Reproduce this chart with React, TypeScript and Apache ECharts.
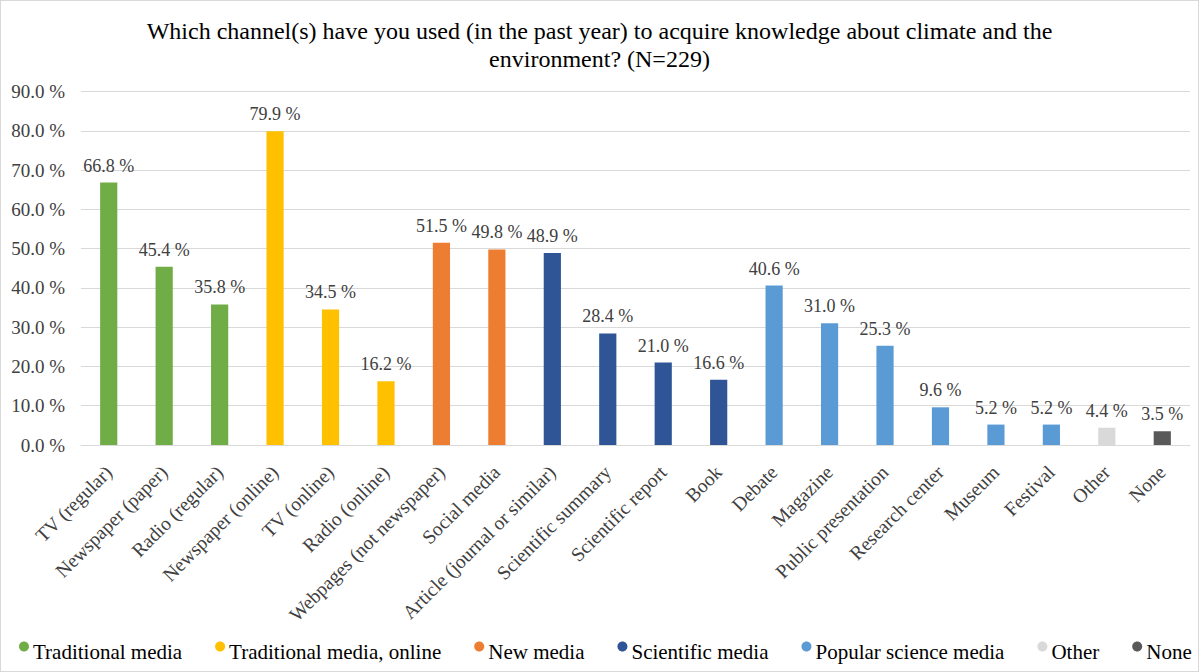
import React, { useEffect, useRef } from "react";
import * as echarts from "echarts";

const categories = [
  "TV (regular)", "Newspaper (paper)", "Radio (regular)", "Newspaper (online)", "TV (online)",
  "Radio (online)", "Webpages (not newspaper)", "Social media", "Article (journal or similar)",
  "Scientific summary", "Scientific report", "Book", "Debate", "Magazine", "Public presentation",
  "Research center", "Museum", "Festival", "Other", "None",
];
const values = [66.8, 45.4, 35.8, 79.9, 34.5, 16.2, 51.5, 49.8, 48.9, 28.4, 21.0, 16.6, 40.6, 31.0, 25.3, 9.6, 5.2, 5.2, 4.4, 3.5];
const groupNames = ["Traditional media", "Traditional media, online", "New media", "Scientific media", "Popular science media", "Other", "None"];
const groupColors = ["#70AD47", "#FFC000", "#ED7D31", "#2F5597", "#5B9BD5", "#D9D9D9", "#595959"];
const groupOf = [0, 0, 0, 1, 1, 1, 2, 2, 3, 3, 3, 3, 4, 4, 4, 4, 4, 4, 5, 6];
const yTicks = [0, 10, 20, 30, 40, 50, 60, 70, 80, 90];
const titleText = "Which channel(s) have you used (in the past year) to acquire knowledge about climate and the\nenvironment? (N=229)";

const FONT = "Liberation Serif, serif";
const DOT_ICON =
  "path://M0,5 C0,2.24 2.24,0 5,0 C7.76,0 10,2.24 10,5 C10,7.76 7.76,10 5,10 C2.24,10 0,7.76 0,5 Z M5,20 L5.01,20 Z";

export default function App() {
  const ref = useRef<HTMLDivElement>(null);
  useEffect(() => {
    if (!ref.current) return;
    const chart = echarts.init(ref.current, undefined, { renderer: "svg" });
    const series = groupNames.map((name, g) => ({
      name,
      type: "bar",
      stack: "all",
      barWidth: "31%",
      itemStyle: { color: groupColors[g] },
      label: {
        show: true,
        position: "top",
        distance: 8,
        fontFamily: FONT,
        fontSize: 18,
        color: "#404040",
        formatter: (p: any) => p.value.toFixed(1) + " %",
      },
      data: values.map((v, i) => (groupOf[i] === g ? v : "-")),
    }));
    chart.setOption({
      animation: false,
      textStyle: { fontFamily: FONT },
      title: {
        text: titleText,
        left: "center",
        top: 11,
        textStyle: { fontFamily: FONT, fontSize: 24, fontWeight: "normal", color: "#000", lineHeight: 28, align: "center" },
      },
      legend: {
        left: 18,
        right: 0,
        top: 640,
        padding: 0,
        icon: DOT_ICON,
        itemWidth: 10,
        itemHeight: 20,
        itemGap: 33,
        textStyle: { fontFamily: FONT, fontSize: 21, color: "#000", padding: [0, 0, 0, -1] },
        data: groupNames,
      },
      grid: { left: 80, right: 8, top: 90.5, bottom: 226, containLabel: false },
      xAxis: {
        type: "category",
        data: categories,
        axisTick: { show: false },
        axisLine: { lineStyle: { color: "#D9D9D9" } },
        axisLabel: {
          interval: 0,
          rotate: 45,
          fontFamily: FONT,
          fontSize: 19.5,
          color: "#404040",
          margin: 24,
        },
      },
      yAxis: {
        type: "value",
        min: 0,
        max: 90,
        interval: 10,
        axisLine: { show: false },
        axisTick: { show: false },
        splitLine: { lineStyle: { color: "#D9D9D9" } },
        axisLabel: {
          fontFamily: FONT,
          fontSize: 19,
          color: "#404040",
          margin: 16,
          formatter: (v: number) => (yTicks.includes(v) ? v.toFixed(1) + " %" : ""),
        },
      },
      series,
    });
    return () => chart.dispose();
  }, []);
  return (
    <div
      style={{
        position: "absolute",
        left: 0,
        top: 0,
        width: 1199,
        height: 672,
        boxSizing: "border-box",
        border: "1px solid #D9D9D9",
        background: "#fff",
      }}
    >
      <div ref={ref} style={{ width: 1197, height: 670 }} />
    </div>
  );
}
